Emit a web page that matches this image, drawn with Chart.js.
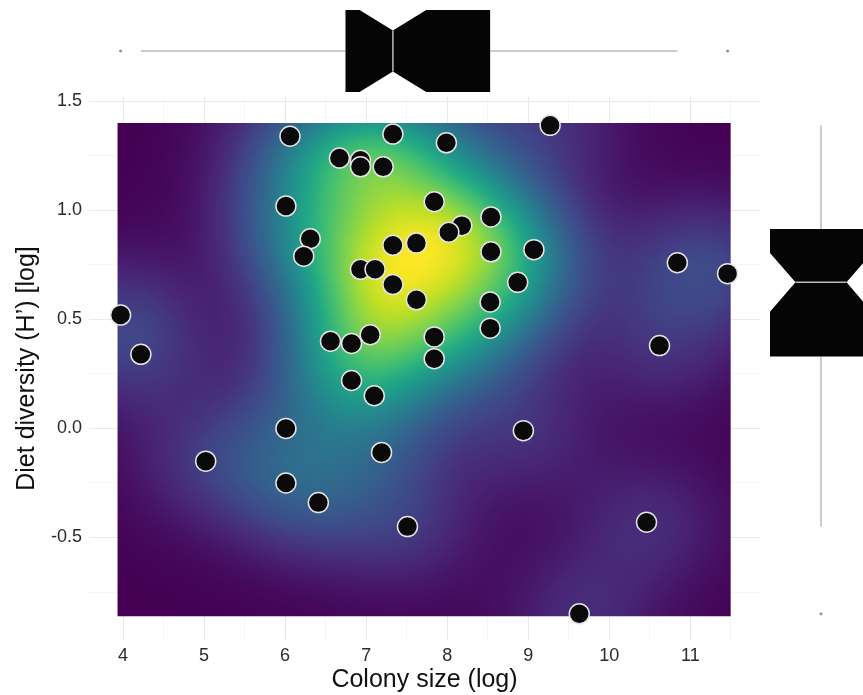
<!DOCTYPE html>
<html>
<head>
<meta charset="utf-8">
<title>Colony size vs diet diversity</title>
<script src="https://cdn.jsdelivr.net/npm/chart.js@4.4.1/dist/chart.umd.min.js"></script>
<style>
  html, body { margin: 0; padding: 0; background: #fff; }
  #wrap { width: 863px; height: 695px; position: relative; }
</style>
</head>
<body>
<div id="wrap"><canvas id="densityChart"></canvas></div>
<script>
// colonies: log colony size vs log diet diversity (H')
const colonySize = [
  3.97, 4.22, 5.02, 6.06, 6.01, 6.31, 6.23, 6.01, 6.01, 6.41,
  6.67, 6.93, 6.93, 7.21, 7.33, 7.99, 9.27, 7.84, 8.18, 8.02,
  8.54, 7.33, 7.62, 6.93, 7.11, 7.33, 7.62, 8.54, 9.07, 8.87,
  8.53, 8.53, 7.84, 7.84, 6.56, 6.82, 7.05, 6.82, 7.10, 7.19,
  8.94, 7.51, 9.63, 10.46, 10.62, 10.84, 11.46
];
const dietDiversity = [
  0.52, 0.34, -0.15, 1.34, 1.02, 0.87, 0.79, 0.00, -0.25, -0.34,
  1.24, 1.23, 1.20, 1.20, 1.35, 1.31, 1.39, 1.04, 0.93, 0.90,
  0.97, 0.84, 0.85, 0.73, 0.73, 0.66, 0.59, 0.81, 0.82, 0.67,
  0.58, 0.46, 0.42, 0.32, 0.40, 0.39, 0.43, 0.22, 0.15, -0.11,
  -0.01, -0.45, -0.85, -0.43, 0.38, 0.76, 0.71
];
const xTicks = [4, 5, 6, 7, 8, 9, 10, 11];
const yTicks = [-0.5, 0.0, 0.5, 1.0, 1.5];
const xLimits = [3.58, 11.86];
const yLimits = [-0.97, 1.52];

const FONT = "'Liberation Sans', Arial, Helvetica, sans-serif";

// gridline breaks: majors plus the midpoints between them (ggplot minor lines)
function withMinor(ticks, lim) {
  const step = ticks[1] - ticks[0];
  const out = [];
  for (let v = ticks[0] - step; v <= ticks[ticks.length - 1] + step + 1e-9; v += step / 2) {
    const r = Math.round(v * 1000) / 1000;
    if (r >= lim[0] && r <= lim[1]) out.push(r);
  }
  return out;
}
const isMajor = (list, v) => list.some(t => Math.abs(t - v) < 1e-6);

// ---- stats helpers ----
function quantile(sorted, p) {
  const h = (sorted.length - 1) * p;
  const lo = Math.floor(h);
  const hi = Math.min(lo + 1, sorted.length - 1);
  return sorted[lo] + (h - lo) * (sorted[hi] - sorted[lo]);
}
function variance(v) {
  const m = v.reduce((a, b) => a + b, 0) / v.length;
  return v.reduce((a, b) => a + (b - m) * (b - m), 0) / (v.length - 1);
}
function bandwidthNrd(v) {
  const s = [...v].sort((a, b) => a - b);
  const iqr = quantile(s, 0.75) - quantile(s, 0.25);
  return 4 * 1.06 * Math.min(Math.sqrt(variance(v)), iqr / 1.34) * Math.pow(v.length, -0.2);
}
function boxStats(v) {
  const s = [...v].sort((a, b) => a - b);
  const q1 = quantile(s, 0.25), med = quantile(s, 0.5), q3 = quantile(s, 0.75);
  const iqr = q3 - q1;
  const lo = q1 - 1.5 * iqr, hi = q3 + 1.5 * iqr;
  const inside = s.filter(d => d >= lo && d <= hi);
  return {
    q1, med, q3,
    wLow: inside[0], wHigh: inside[inside.length - 1],
    outliers: s.filter(d => d < lo || d > hi),
    notch: 1.58 * iqr / Math.sqrt(s.length)
  };
}

// 2d kernel density on a 100x100 grid (like MASS::kde2d)
function kde2d(xs, ys, n) {
  const hx = bandwidthNrd(xs) / 4, hy = bandwidthNrd(ys) / 4;
  const x0 = Math.min(...xs), x1 = Math.max(...xs);
  const y0 = Math.min(...ys), y1 = Math.max(...ys);
  const gx = [], gy = [];
  for (let i = 0; i < n; i++) {
    gx.push(x0 + i * (x1 - x0) / (n - 1));
    gy.push(y0 + i * (y1 - y0) / (n - 1));
  }
  const z = [];
  let zmin = Infinity, zmax = -Infinity;
  for (let i = 0; i < n; i++) {
    z.push([]);
    for (let j = 0; j < n; j++) {
      let d = 0;
      for (let k = 0; k < xs.length; k++) {
        const ux = (gx[i] - xs[k]) / hx, uy = (gy[j] - ys[k]) / hy;
        d += Math.exp(-0.5 * (ux * ux + uy * uy));
      }
      d /= (xs.length * 2 * Math.PI * hx * hy);
      z[i].push(d);
      if (d < zmin) zmin = d;
      if (d > zmax) zmax = d;
    }
  }
  return { n, gx, gy, z, zmin, zmax, dx: (x1 - x0) / (n - 1), dy: (y1 - y0) / (n - 1) };
}

const viridis = ['#440154', '#482475', '#414487', '#355f8d', '#2a788e', '#21918c',
                 '#22a884', '#44bf70', '#7ad151', '#bddf26', '#fde725'];
function hexRgb(h) { return [1, 3, 5].map(i => parseInt(h.substr(i, 2), 16)); }
const viridisRgb = viridis.map(hexRgb);
function viridisAt(t) {
  t = Math.max(0, Math.min(1, t)) * (viridisRgb.length - 1);
  const i = Math.min(Math.floor(t), viridisRgb.length - 2), f = t - i;
  const a = viridisRgb[i], b = viridisRgb[i + 1];
  return a.map((c, k) => Math.round(c + (b[k] - c) * f));
}

const density = kde2d(colonySize, dietDiversity, 100);

// paint the grid once into a small bitmap, row 0 = highest y
const rasterCanvas = document.createElement('canvas');
(function paintRaster() {
  const d = density;
  rasterCanvas.width = d.n;
  rasterCanvas.height = d.n;
  const rctx = rasterCanvas.getContext('2d');
  const img = rctx.createImageData(d.n, d.n);
  for (let i = 0; i < d.n; i++) {
    for (let j = 0; j < d.n; j++) {
      const rgb = viridisAt((d.z[i][j] - d.zmin) / (d.zmax - d.zmin));
      const p = ((d.n - 1 - j) * d.n + i) * 4;
      img.data[p] = rgb[0]; img.data[p + 1] = rgb[1]; img.data[p + 2] = rgb[2]; img.data[p + 3] = 255;
    }
  }
  rctx.putImageData(img, 0, 0);
})();

// raster of the density behind the points, placed through the scales
const densityRaster = {
  id: 'densityRaster',
  beforeDatasetsDraw(chart) {
    const { ctx, scales: { x, y } } = chart;
    const d = density;
    const left = x.getPixelForValue(d.gx[0] - d.dx / 2);
    const right = x.getPixelForValue(d.gx[d.n - 1] + d.dx / 2);
    const top = y.getPixelForValue(d.gy[d.n - 1] + d.dy / 2);
    const bottom = y.getPixelForValue(d.gy[0] - d.dy / 2);
    ctx.save();
    ctx.beginPath();
    ctx.rect(left, top, right - left, bottom - top);
    ctx.clip();
    ctx.imageSmoothingEnabled = true;
    ctx.imageSmoothingQuality = 'high';
    // draw slightly larger by half a cell so smoothing doesn't fade the edges
    const cw = (right - left) / d.n, ch = (bottom - top) / d.n;
    ctx.drawImage(rasterCanvas, left - cw * 0.5, top - ch * 0.5, right - left + cw, bottom - top + ch);
    ctx.restore();
  }
};

// notched marginal boxplots (top: colony size, right: diet diversity)
const marginalBoxes = {
  id: 'marginalBoxes',
  afterDraw(chart) {
    const { ctx, chartArea, scales: { x, y } } = chart;
    const bx = boxStats(colonySize), by = boxStats(dietDiversity);
    ctx.save();

    // top, horizontal
    const cy = chartArea.top - 46, hh = 41;
    const X = v => x.getPixelForValue(v);
    ctx.strokeStyle = '#9a9a9a';
    ctx.lineWidth = 1;
    ctx.beginPath();
    ctx.moveTo(X(bx.wLow), cy); ctx.lineTo(X(bx.q1), cy);
    ctx.moveTo(X(bx.q3), cy); ctx.lineTo(X(bx.wHigh), cy);
    ctx.stroke();
    ctx.fillStyle = '#999';
    bx.outliers.forEach(v => { ctx.beginPath(); ctx.arc(X(v), cy, 1.6, 0, Math.PI * 2); ctx.fill(); });
    ctx.beginPath();
    ctx.moveTo(X(bx.q1), cy - hh);
    ctx.lineTo(X(bx.med - bx.notch), cy - hh);
    ctx.lineTo(X(bx.med), cy - hh / 2);
    ctx.lineTo(X(bx.med + bx.notch), cy - hh);
    ctx.lineTo(X(bx.q3), cy - hh);
    ctx.lineTo(X(bx.q3), cy + hh);
    ctx.lineTo(X(bx.med + bx.notch), cy + hh);
    ctx.lineTo(X(bx.med), cy + hh / 2);
    ctx.lineTo(X(bx.med - bx.notch), cy + hh);
    ctx.lineTo(X(bx.q1), cy + hh);
    ctx.closePath();
    ctx.fillStyle = '#050505';
    ctx.fill();
    ctx.strokeStyle = '#bdbdbd';
    ctx.lineWidth = 1.5;
    ctx.beginPath();
    ctx.moveTo(X(bx.med), cy - hh / 2); ctx.lineTo(X(bx.med), cy + hh / 2);
    ctx.stroke();

    // right, vertical
    const cx = chartArea.right + 61, hw = 51;
    const Y = v => y.getPixelForValue(v);
    ctx.strokeStyle = '#9a9a9a';
    ctx.lineWidth = 1;
    ctx.beginPath();
    ctx.moveTo(cx, Y(by.wLow)); ctx.lineTo(cx, Y(by.q1));
    ctx.moveTo(cx, Y(by.q3)); ctx.lineTo(cx, Y(by.wHigh));
    ctx.stroke();
    ctx.fillStyle = '#999';
    by.outliers.forEach(v => { ctx.beginPath(); ctx.arc(cx, Y(v), 1.6, 0, Math.PI * 2); ctx.fill(); });
    ctx.beginPath();
    ctx.moveTo(cx - hw, Y(by.q3));
    ctx.lineTo(cx - hw, Y(by.med + by.notch));
    ctx.lineTo(cx - hw / 2, Y(by.med));
    ctx.lineTo(cx - hw, Y(by.med - by.notch));
    ctx.lineTo(cx - hw, Y(by.q1));
    ctx.lineTo(cx + hw, Y(by.q1));
    ctx.lineTo(cx + hw, Y(by.med - by.notch));
    ctx.lineTo(cx + hw / 2, Y(by.med));
    ctx.lineTo(cx + hw, Y(by.med + by.notch));
    ctx.lineTo(cx + hw, Y(by.q3));
    ctx.closePath();
    ctx.fillStyle = '#050505';
    ctx.fill();
    ctx.strokeStyle = '#bdbdbd';
    ctx.lineWidth = 1.5;
    ctx.beginPath();
    ctx.moveTo(cx - hw / 2, Y(by.med)); ctx.lineTo(cx + hw / 2, Y(by.med));
    ctx.stroke();

    ctx.restore();
  }
};

const xBreaks = withMinor(xTicks, xLimits);
const yBreaks = withMinor(yTicks, yLimits);

new Chart(document.getElementById('densityChart'), {
  type: 'scatter',
  data: {
    datasets: [{
      label: 'colonies',
      data: colonySize.map((v, i) => ({ x: v, y: dietDiversity[i] })),
      pointRadius: 10,
      pointHoverRadius: 10,
      backgroundColor: '#0a0a0a',
      borderColor: '#e4e4e4',
      borderWidth: 1.5
    }]
  },
  options: {
    responsive: true,
    maintainAspectRatio: false,
    animation: false,
    layout: { padding: { top: 97, right: 103, left: 0, bottom: 0 } },
    plugins: { legend: { display: false }, tooltip: { enabled: false } },
    scales: {
      x: {
        type: 'linear',
        min: xLimits[0],
        max: xLimits[1],
        afterBuildTicks: s => { s.ticks = xBreaks.map(v => ({ value: v })); },
        afterFit: s => { s.height = 55; },
        border: { display: false },
        grid: {
          drawTicks: false,
          color: c => isMajor(xTicks, c.tick.value) ? '#e9e9e9' : '#f4f4f4',
          lineWidth: c => isMajor(xTicks, c.tick.value) ? 1 : 0.8
        },
        ticks: {
          autoSkip: false,
          maxRotation: 0,
          padding: 5,
          color: '#2b2b2b',
          font: { family: FONT, size: 18 },
          callback: v => isMajor(xTicks, v) ? String(Math.round(v)) : ''
        },
        title: {
          display: true,
          text: 'Colony size (log)',
          color: '#111',
          font: { family: FONT, size: 25 },
          padding: { top: 0, bottom: 0 }
        }
      },
      y: {
        type: 'linear',
        min: yLimits[0],
        max: yLimits[1],
        afterBuildTicks: s => { s.ticks = yBreaks.map(v => ({ value: v })); },
        afterFit: s => { s.width = 89; },
        border: { display: false },
        grid: {
          drawTicks: false,
          color: c => isMajor(yTicks, c.tick.value) ? '#e9e9e9' : '#f4f4f4',
          lineWidth: c => isMajor(yTicks, c.tick.value) ? 1 : 0.8
        },
        ticks: {
          autoSkip: false,
          padding: 7,
          color: '#2b2b2b',
          font: { family: FONT, size: 18 },
          callback: v => isMajor(yTicks, v) ? v.toFixed(1) : ''
        },
        title: {
          display: true,
          text: 'Diet diversity (H’) [log]',
          color: '#111',
          font: { family: FONT, size: 25 },
          padding: { top: 12, bottom: 0 }
        }
      }
    }
  },
  plugins: [densityRaster, marginalBoxes]
});
</script>
</body>
</html>
